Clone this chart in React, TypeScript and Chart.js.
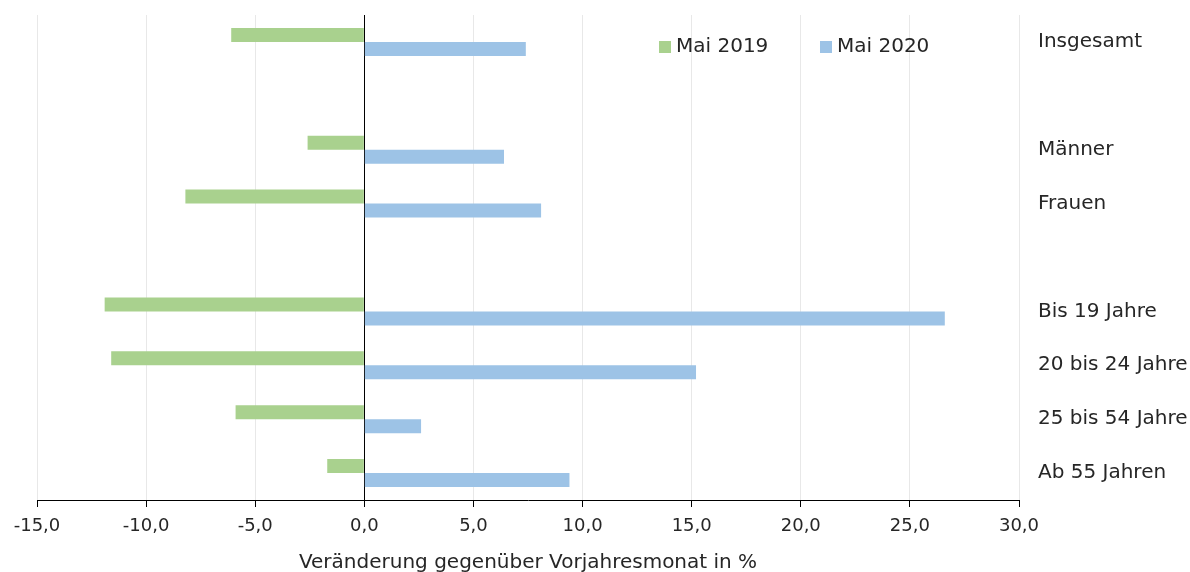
import React, { useEffect, useRef } from "react";
import { Chart, registerables } from "chart.js";

Chart.register(...registerables);

const categories = ["Insgesamt", "", "Männer", "Frauen", "", "Bis 19 Jahre", "20 bis 24 Jahre", "25 bis 54 Jahre", "Ab 55 Jahren"];
const seriesNames = ["Mai 2019", "Mai 2020"];
const mai2019 = [-6.1, null, -2.6, -8.2, null, -11.9, -11.6, -5.9, -1.7];
const mai2020 = [7.4, null, 6.4, 8.1, null, 26.6, 15.2, 2.6, 9.4];
const xTicks = [-15, -10, -5, 0, 5, 10, 15, 20, 25, 30];
const colors = ["#A9D18E", "#9DC3E6"];

const FONT = "'DejaVu Sans', sans-serif";
const TEXT = "#262626";

const legendPlugin = {
  id: "customLegend",
  afterDraw(chart: any) {
    const { ctx, chartArea } = chart;
    const items = [
      { x: chartArea.left + 622, label: seriesNames[0], color: colors[0] },
      { x: chartArea.left + 783, label: seriesNames[1], color: colors[1] },
    ];
    ctx.save();
    ctx.font = `20px ${FONT}`;
    ctx.textBaseline = "middle";
    ctx.textAlign = "left";
    for (const it of items) {
      ctx.fillStyle = it.color;
      ctx.fillRect(it.x, chartArea.top + 26, 12, 12);
      ctx.fillStyle = TEXT;
      ctx.fillText(it.label, it.x + 17, chartArea.top + 32);
    }
    ctx.restore();
  },
};

export default function App() {
  const ref = useRef<HTMLCanvasElement | null>(null);
  useEffect(() => {
    if (!ref.current) return;
    const chart = new Chart(ref.current, {
      type: "bar",
      data: {
        labels: categories,
        datasets: [
          { label: seriesNames[0], data: mai2019 as any, backgroundColor: colors[0], categoryPercentage: 0.52, barPercentage: 1 },
          { label: seriesNames[1], data: mai2020 as any, backgroundColor: colors[1], categoryPercentage: 0.52, barPercentage: 1 },
        ],
      },
      options: {
        indexAxis: "y",
        animation: false,
        responsive: true,
        maintainAspectRatio: false,
        layout: { padding: { left: 37, top: 15, right: 0, bottom: 0 } },
        plugins: { legend: { display: false }, tooltip: { enabled: false } },
        scales: {
          x: {
            type: "linear",
            min: -15,
            max: 30,
            afterBuildTicks: (axis: any) => {
              axis.ticks = xTicks.map((v) => ({ value: v }));
            },
            afterFit: (axis: any) => {
              axis.height = 72;
              axis.paddingLeft = 0;
            },
            grid: {
              color: (c: any) => (c.tick && c.tick.value === 0 ? "#000000" : "#E8E8E8"),
              lineWidth: 1,
              tickLength: 7,
              tickColor: "#000000",
            },
            border: { display: true, color: "#000000", width: 1 },
            ticks: {
              padding: 9,
              color: TEXT,
              font: { family: FONT, size: 18 },
              callback: (v: any) => Number(v).toFixed(1).replace(".", ","),
              maxRotation: 0,
            },
            title: {
              display: true,
              text: "Veränderung gegenüber Vorjahresmonat in %",
              color: TEXT,
              font: { family: FONT, size: 20 },
              padding: { top: 7, bottom: -3 },
            },
          },
          y: {
            position: "right",
            afterFit: (axis: any) => {
              axis.width = 171;
              axis.paddingTop = 0;
              axis.paddingBottom = 0;
            },
            grid: { display: false, drawTicks: false },
            border: { display: false },
            ticks: {
              padding: 19,
              color: TEXT,
              font: { family: FONT, size: 20 },
            },
          },
        },
      },
      plugins: [legendPlugin],
    } as any);
    return () => chart.destroy();
  }, []);
  return (
    <div style={{ position: "fixed", left: 0, top: 0, width: 1190, height: 572, background: "#fff" }}>
      <canvas ref={ref} />
    </div>
  );
}
